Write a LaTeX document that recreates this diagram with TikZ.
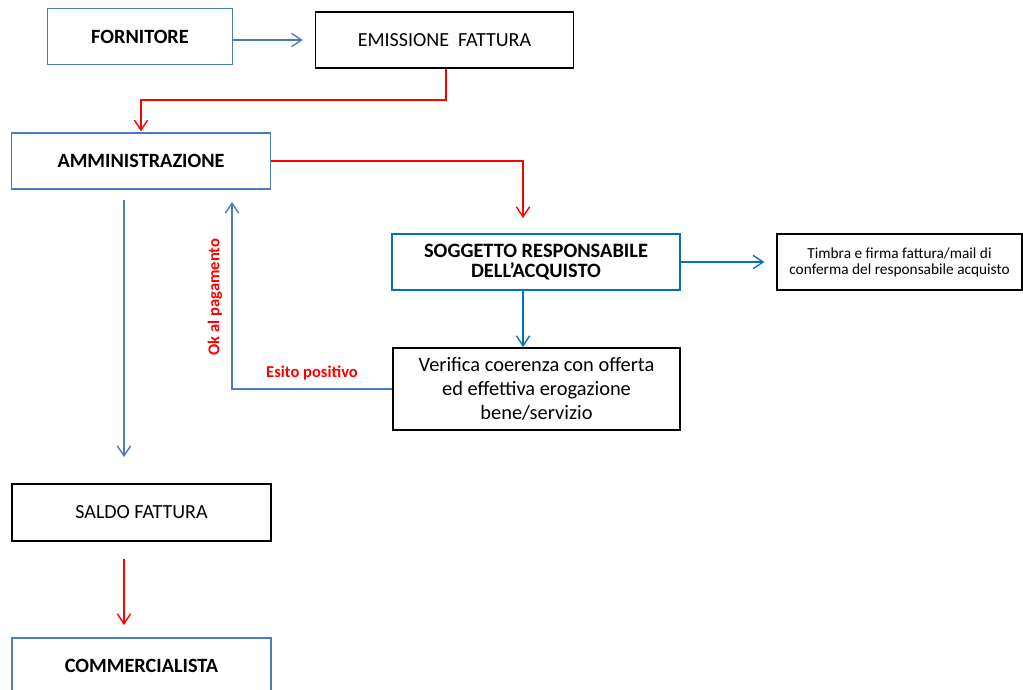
\documentclass[tikz,border=0pt]{standalone}
\usepackage{fontspec}
\setmainfont{Carlito}
\usetikzlibrary{arrows.meta}
\definecolor{lblue}{RGB}{74,126,187}
\definecolor{dblue}{RGB}{0,112,192}
\definecolor{lred}{RGB}{255,0,0}
\tikzset{
  box/.style={draw, line width=1.1pt, inner sep=0pt, align=center, anchor=center},
  bbox/.style={box, draw=black},
  blbox/.style={box, draw=lblue},
  dbbox/.style={box, draw=dblue},
  boldtxt/.style={font=\fontsize{15.2}{17}\selectfont\bfseries},
  regtxt/.style={font=\fontsize{15}{17}\selectfont},
  tip/.style={-{Straight Barb[length=7.5pt,width=10pt]}, line width=1pt},
  blarrow/.style={tip, draw=lblue},
  dbarrow/.style={tip, draw=dblue},
  redarrow/.style={tip, draw=lred},
  lbl/.style={text=lred, font=\fontsize{12.4}{14}\selectfont\bfseries, inner sep=0pt},
}
\begin{document}
\begin{tikzpicture}[x=0.75pt,y=-0.75pt]
\useasboundingbox (0,0) rectangle (1023,689);
\clip (0,0) rectangle (1023,689);
\fill[white] (0,0) rectangle (1023,689);

\node[blbox, boldtxt, minimum width=185*0.75pt, minimum height=56*0.75pt] (forn) at (140,36.5) {FORNITORE};
\node[bbox, regtxt, minimum width=258*0.75pt, minimum height=56*0.75pt] (emis) at (444.5,40) {EMISSIONE\ \ FATTURA};
\node[blbox, boldtxt, minimum width=259*0.75pt, minimum height=56*0.75pt] (amm) at (141,161) {AMMINISTRAZIONE};
\node[dbbox, font=\fontsize{15.3}{14.6}\selectfont\bfseries, minimum width=288*0.75pt, minimum height=56*0.75pt] (sogg) at (536,262) {SOGGETTO RESPONSABILE\\DELL’ACQUISTO};
\node[bbox, font=\fontsize{11.5}{12}\selectfont, minimum width=245*0.75pt, minimum height=56*0.75pt] (timb) at (899.5,262) {Timbra e firma fattura/mail di\\conferma del responsabile acquisto};
\node[bbox, font=\fontsize{15.3}{18}\selectfont, minimum width=287*0.75pt, minimum height=82*0.75pt] (ver) at (536.5,389) {Verifica coerenza con offerta\\ed effettiva erogazione\\bene/servizio};
\node[bbox, regtxt, minimum width=259*0.75pt, minimum height=57*0.75pt] (saldo) at (141.5,512.5) {SALDO FATTURA};
\node[blbox, boldtxt, minimum width=259*0.75pt, minimum height=56*0.75pt] (comm) at (141.5,666) {COMMERCIALISTA};

% helper coordinates
\coordinate (e1) at (446,100);
\coordinate (snorth) at (523,234);
\coordinate (ssouth) at (523,290);
\coordinate (vnorth) at (523,348);
\coordinate (abot) at (232,189);
\coordinate (abot2) at (124,189);
\coordinate (stop) at (124,484);
\coordinate (sbot) at (124,541);
\coordinate (ctop) at (124,638);

% connectors
\draw[blarrow, shorten >=12*0.75pt] (forn.east |- emis.west) -- (emis.west);
\draw[redarrow] (emis.south -| e1) -- (e1) -| ([yshift=1*0.75pt]amm.north);
\draw[redarrow, shorten >=16*0.75pt] (amm.east) -| (snorth);
\draw[dbarrow, shorten >=1*0.75pt] (ssouth) -- (vnorth);
\draw[dbarrow, shorten >=12*0.75pt] (sogg.east) -- (timb.west);
\draw[blarrow, shorten >=13*0.75pt] (ver.west) -| (abot);
\draw[blarrow, shorten <=11*0.75pt, shorten >=27*0.75pt] (abot2) -- (stop);
\draw[redarrow, shorten <=18*0.75pt, shorten >=13*0.75pt] (sbot) -- (ctop);

% labels
\node[lbl, rotate=90] (okp) at (215,297) {Ok al pagamento};
\node[lbl] (esito) at (312,373) {Esito positivo};
\end{tikzpicture}
\end{document}
